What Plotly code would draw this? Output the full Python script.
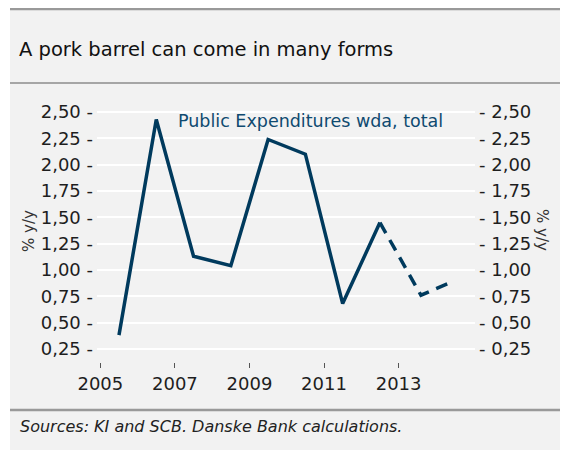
import plotly.graph_objects as go

# ---- data ----
years_actual = [2005.5, 2006.5, 2007.5, 2008.5, 2009.5, 2010.5, 2011.5, 2012.5]
values_actual = [0.38, 2.43, 1.13, 1.04, 2.24, 2.10, 0.68, 1.45]
years_forecast = [2012.5, 2013.6, 2014.45]
values_forecast = [1.45, 0.76, 0.89]

y_tickvals = [0.25, 0.50, 0.75, 1.00, 1.25, 1.50, 1.75, 2.00, 2.25, 2.50]
y_ticklabels = ["0,25", "0,50", "0,75", "1,00", "1,25", "1,50", "1,75", "2,00", "2,25", "2,50"]
x_tickvals = [2005, 2007, 2009, 2011, 2013]
x_ticklabels = ["2005", "2007", "2009", "2011", "2013"]

series_name = "Public Expenditures wda, total"
title_text = "A pork barrel can come in many forms"
source_text = "Sources: KI and SCB. Danske Bank calculations."
axis_title = "% y/y"

# ---- layout geometry ----
# The page places the figure 8px from the top-left corner (default body margin);
# all target positions below are page pixels.
OFF = 8
W, H = 568, 450
PLOT_LEFT, PLOT_RIGHT, PLOT_TOP, PLOT_BOTTOM = 97, 475, 110, 362   # page pixels
L = PLOT_LEFT - OFF
T = PLOT_TOP - OFF
PW = PLOT_RIGHT - PLOT_LEFT
PH = PLOT_BOTTOM - PLOT_TOP
R = W - L - PW
B = H - T - PH


def xp(px):
    return (px - PLOT_LEFT) / PW


def yp(py):
    return (PLOT_BOTTOM - py) / PH


FONT = "DejaVu Sans"
LINE_COLOR = "#003a5d"
TEXT_COLOR = "#1e1e1e"
BG = "#f2f2f2"

fig = go.Figure()
fig.add_trace(go.Scatter(x=years_actual, y=values_actual, mode="lines",
                         line=dict(color=LINE_COLOR, width=3.5),
                         showlegend=False, hoverinfo="skip"))
fig.add_trace(go.Scatter(x=years_forecast, y=values_forecast, mode="lines",
                         line=dict(color=LINE_COLOR, width=3.5, dash="12px,8px"),
                         yaxis="y2", showlegend=False, hoverinfo="skip"))

yr = [0.125, 2.52]
fig.update_layout(
    width=W, height=H,
    margin=dict(l=L, r=R, t=T, b=B, pad=0, autoexpand=False),
    paper_bgcolor=BG, plot_bgcolor=BG,
    font=dict(family=FONT, color=TEXT_COLOR),
    xaxis=dict(range=[2004.91, 2015.05], tickvals=x_tickvals, ticktext=x_ticklabels,
               showgrid=False, zeroline=False, showline=False, automargin=False,
               ticks="outside", ticklen=5, tickwidth=1, tickcolor="#555555",
               tickfont=dict(size=18, color=TEXT_COLOR)),
    yaxis=dict(range=yr, tickvals=y_tickvals, ticktext=[t + " -" for t in y_ticklabels],
               showgrid=True, gridcolor="#ffffff", gridwidth=2, zeroline=False,
               showline=False, ticks="", ticklabelstandoff=3, automargin=False,
               tickfont=dict(size=18, color=TEXT_COLOR)),
    yaxis2=dict(range=yr, tickvals=y_tickvals, ticktext=["- " + t for t in y_ticklabels],
                overlaying="y", side="right", showgrid=False, zeroline=False,
                showline=False, ticks="", ticklabelstandoff=3, automargin=False,
                tickfont=dict(size=18, color=TEXT_COLOR)),
    shapes=[
        dict(type="rect", xref="paper", yref="paper", x0=xp(0), x1=xp(10), y0=yp(0), y1=yp(H + OFF),
             fillcolor="#ffffff", line=dict(width=0), layer="above"),
        dict(type="rect", xref="paper", yref="paper", x0=xp(10), x1=xp(W + OFF), y0=yp(OFF), y1=yp(OFF + 2.3),
             fillcolor="#999999", line=dict(width=0), layer="above"),
        dict(type="line", xref="paper", yref="paper", x0=xp(10), x1=xp(W + OFF), y0=yp(83), y1=yp(83),
             line=dict(color="#8c8c8c", width=1.5), layer="above"),
        dict(type="line", xref="paper", yref="paper", x0=xp(10), x1=xp(W + OFF), y0=yp(410), y1=yp(410),
             line=dict(color="#999999", width=2.5), layer="above"),
    ],
    annotations=[
        dict(text=title_text, xref="paper", yref="paper", x=xp(17), y=yp(50),
             xanchor="left", yanchor="middle", showarrow=False,
             font=dict(family=FONT, size=19.5, color="#111111")),
        dict(text=source_text, xref="paper", yref="paper", x=xp(18), y=yp(426),
             xanchor="left", yanchor="middle", showarrow=False,
             font=dict(family=FONT, size=16, color="#222222", style="italic")),
        dict(text=series_name, xref="paper", yref="paper", x=xp(176), y=yp(121),
             xanchor="left", yanchor="middle", showarrow=False,
             font=dict(family=FONT, size=17.5, color="#0f4a70")),
        dict(text=axis_title, xref="paper", yref="paper", x=xp(29), y=yp(231),
             xanchor="center", yanchor="middle", showarrow=False, textangle=-90,
             font=dict(family=FONT, size=15, color="#333333")),
        dict(text=axis_title, xref="paper", yref="paper", x=xp(542), y=yp(230),
             xanchor="center", yanchor="middle", showarrow=False, textangle=90,
             font=dict(family=FONT, size=15, color="#333333")),
    ],
)

fig.write_html("out.html")
